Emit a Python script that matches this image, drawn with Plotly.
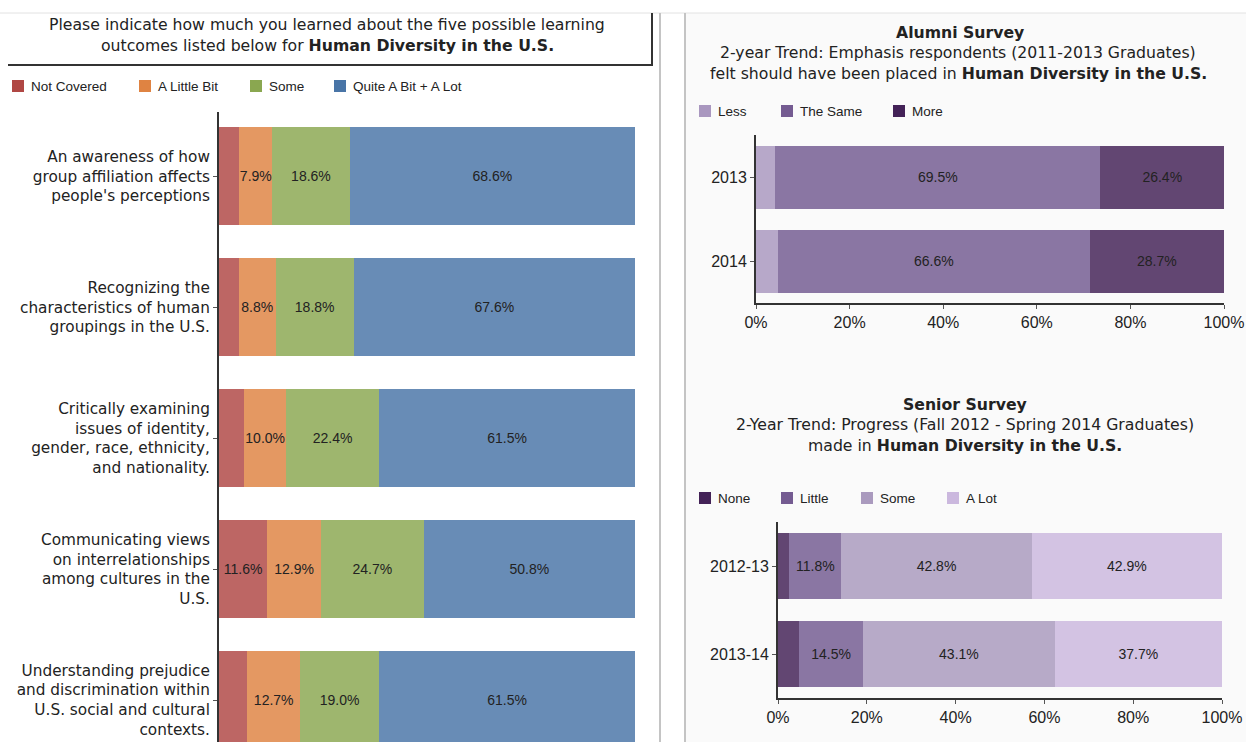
import plotly.graph_objects as go

W, H = 1246, 742

# ---- Left panel: learning outcomes ----
outcomes = [
    "An awareness of how<br>group affiliation affects<br>people's perceptions",
    "Recognizing the<br>characteristics of human<br>groupings in the U.S.",
    "Critically examining<br>issues of identity,<br>gender, race, ethnicity,<br>and nationality.",
    "Communicating views<br>on interrelationships<br>among cultures in the<br>U.S.",
    "Understanding prejudice<br>and discrimination within<br>U.S. social and cultural<br>contexts.",
]
not_covered = [4.9, 4.8, 6.1, 11.6, 6.8]
a_little_bit = [7.9, 8.8, 10.0, 12.9, 12.7]
some = [18.6, 18.8, 22.4, 24.7, 19.0]
quite_a_lot = [68.6, 67.6, 61.5, 50.8, 61.5]

# ---- Right top: alumni survey ----
alumni_years = ["2013", "2014"]
alumni_less = [4.1, 4.7]
alumni_same = [69.5, 66.6]
alumni_more = [26.4, 28.7]

# ---- Right bottom: senior survey ----
senior_years = ["2012-13", "2013-14"]
senior_none = [2.5, 4.7]
senior_little = [11.8, 14.5]
senior_some = [42.8, 43.1]
senior_alot = [42.9, 37.7]

pct_ticks = [0, 20, 40, 60, 80, 100]
pct_tick_labels = ["0%", "20%", "40%", "60%", "80%", "100%"]

SANS = "Liberation Sans, Arial, sans-serif"
WIDE = "DejaVu Sans, sans-serif"
TXT = "#222222"
BAR_OPACITY = 0.83


def px_x(px):
    return px / W


def px_y(py):
    return 1 - py / H


def labels(vals, minimum=7.5):
    return [f"{v:.1f}%" if v >= minimum else "" for v in vals]


fig = go.Figure()

left_series = [
    ("Not Covered", not_covered, "#b04744"),
    ("A Little Bit", a_little_bit, "#df8342"),
    ("Some", some, "#8aa750"),
    ("Quite A Bit + A Lot", quite_a_lot, "#4975a7"),
]
alumni_series = [
    ("Less", alumni_less, "#a997bf"),
    ("The Same", alumni_same, "#745b91"),
    ("More", alumni_more, "#432257"),
]
senior_series = [
    ("None", senior_none, "#432257"),
    ("Little", senior_little, "#745b91"),
    ("Some", senior_some, "#aa9abe"),
    ("A Lot", senior_alot, "#cbb8de"),
]


def add_series(name, cats, vals, color, xa, ya):
    fig.add_trace(go.Bar(
        name=name, y=cats, x=vals, orientation="h",
        marker=dict(color=color, opacity=BAR_OPACITY, line=dict(width=0)),
        text=labels(vals), textposition="inside", insidetextanchor="middle",
        textangle=0, constraintext="none",
        textfont=dict(family=SANS, size=14, color=TXT),
        xaxis=xa, yaxis=ya, showlegend=False, hoverinfo="skip",
    ))


for name, vals, color in left_series:
    add_series(name, outcomes, vals, color, "x", "y")
for name, vals, color in alumni_series:
    add_series(name, alumni_years, vals, color, "x2", "y2")
for name, vals, color in senior_series:
    add_series(name, senior_years, vals, color, "x3", "y3")

axis_common = dict(showgrid=False, zeroline=False, showline=True,
                   linecolor="#333333", linewidth=2, ticks="outside",
                   ticklen=4, tickcolor="#555555", fixedrange=True)

pct_axis = dict(range=[0, 100], tickmode="array", tickvals=pct_ticks,
                ticktext=pct_tick_labels,
                tickfont=dict(family=SANS, size=16, color=TXT), **axis_common)

fig.update_layout(
    width=W, height=H,
    margin=dict(l=0, r=0, t=0, b=0, autoexpand=False),
    paper_bgcolor="white", plot_bgcolor="rgba(0,0,0,0)",
    barmode="stack", bargap=0.25, showlegend=False,
    font=dict(family=SANS, color=TXT),
    xaxis=dict(domain=[px_x(219), px_x(635)], range=[0, 100], visible=False,
               anchor="y", fixedrange=True),
    yaxis=dict(domain=[0, px_y(112)], type="category",
               categoryorder="array", categoryarray=outcomes,
               range=[4.32, -0.49], anchor="x",
               tickfont=dict(family=WIDE, size=15.3, color=TXT), **axis_common),
    xaxis2=dict(domain=[px_x(756), px_x(1224)], anchor="y2", **pct_axis),
    yaxis2=dict(domain=[px_y(303), px_y(135)], type="category",
                categoryorder="array", categoryarray=alumni_years,
                range=[1.5, -0.5], anchor="x2",
                tickfont=dict(family=SANS, size=16, color=TXT), **axis_common),
    xaxis3=dict(domain=[px_x(778), px_x(1222)], anchor="y3", **pct_axis),
    yaxis3=dict(domain=[px_y(698), px_y(522)], type="category",
                categoryorder="array", categoryarray=senior_years,
                range=[1.5, -0.5], anchor="x3",
                tickfont=dict(family=SANS, size=16, color=TXT), **axis_common),
)

# Panel backgrounds, separators and title box
shapes = [
    dict(type="rect", xref="paper", yref="paper", x0=px_x(686), x1=1,
         y0=0, y1=px_y(13), fillcolor="#fafafa", line=dict(width=0),
         layer="below"),
    dict(type="line", xref="paper", yref="paper", x0=0, x1=1,
         y0=px_y(13), y1=px_y(13), line=dict(color="#e2e2e2", width=1)),
    dict(type="line", xref="paper", yref="paper", x0=px_x(660), x1=px_x(660),
         y0=0, y1=px_y(13), line=dict(color="#c4c4c4", width=2)),
    dict(type="line", xref="paper", yref="paper", x0=px_x(685), x1=px_x(685),
         y0=0, y1=px_y(13), line=dict(color="#c4c4c4", width=2)),
    dict(type="line", xref="paper", yref="paper", x0=px_x(652), x1=px_x(652),
         y0=px_y(65), y1=px_y(13), line=dict(color="#333333", width=2)),
    dict(type="line", xref="paper", yref="paper", x0=px_x(8), x1=px_x(653),
         y0=px_y(65), y1=px_y(65), line=dict(color="#333333", width=2)),
]

annotations = []


def text_line(txt, cx, cy, size=15.7, family=WIDE):
    annotations.append(dict(
        text=txt, x=px_x(cx), y=px_y(cy), xref="paper", yref="paper",
        xanchor="center", yanchor="middle", showarrow=False,
        font=dict(family=family, size=size, color=TXT)))


# Titles, one annotation per line
text_line("Please indicate how much you learned about the five possible learning", 327, 25)
text_line("outcomes listed below for <b>Human Diversity in the U.S.</b>", 327, 46)

text_line("<b>Alumni Survey</b>", 960, 33)
text_line("2-year Trend: Emphasis respondents (2011-2013 Graduates)", 958, 53)
text_line("felt should have been placed in <b>Human Diversity in the U.S.</b>", 958, 73)

text_line("<b>Senior Survey</b>", 965, 404)
text_line("2-Year Trend: Progress (Fall 2012 - Spring 2014 Graduates)", 965, 424)
text_line("made in <b>Human Diversity in the U.S.</b>", 965, 445)


# Legend keys: coloured square plus label
def legend_row(series, xs, cy):
    for (name, _vals, color), x in zip(series, xs):
        shapes.append(dict(type="rect", xref="paper", yref="paper",
                           x0=px_x(x), x1=px_x(x + 12),
                           y0=px_y(cy + 6), y1=px_y(cy - 6),
                           fillcolor=color, line=dict(width=0)))
        annotations.append(dict(
            text=name, x=px_x(x + 17), y=px_y(cy), xref="paper", yref="paper",
            xanchor="left", yanchor="middle", showarrow=False,
            font=dict(family=SANS, size=13.5, color=TXT)))


legend_row(left_series, [12, 139, 250, 334], 86)
legend_row(alumni_series, [699, 781, 893], 111)
legend_row(senior_series, [699, 781, 861, 947], 498)

fig.update_layout(shapes=shapes, annotations=annotations)

fig.write_html("out.html", config={"displayModeBar": False})
